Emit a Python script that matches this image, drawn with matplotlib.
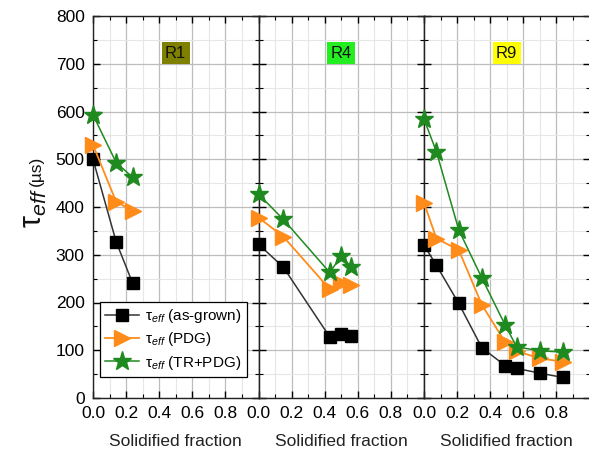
import matplotlib
matplotlib.use("Agg")
import matplotlib.pyplot as plt
from matplotlib.ticker import MultipleLocator, FixedLocator, FormatStrFormatter

plt.rcParams['font.family'] = ['Liberation Sans', 'DejaVu Sans']
plt.rcParams['mathtext.fontset'] = 'custom'
plt.rcParams['mathtext.rm'] = 'Liberation Sans'
plt.rcParams['mathtext.it'] = 'Liberation Sans:italic'
plt.rcParams['mathtext.bf'] = 'Liberation Sans:bold'

# Ingot regions
regions = ["R1", "R4", "R9"]
region_colors = ["#7f7f00", "#22ee22", "#ffff00"]

# Solidified fraction of each wafer position
frac_r1 = [0.0, 0.14, 0.24]
frac_r4 = [0.0, 0.15, 0.43, 0.50, 0.56]
frac_r9 = [0.0, 0.075, 0.21, 0.35, 0.49, 0.56, 0.70, 0.84]

# Effective lifetime (us): as-grown, after PDG, after TR+PDG
asgrown_r1 = [500, 327, 240]
pdg_r1 = [530, 411, 392]
trpdg_r1 = [593, 493, 462]

asgrown_r4 = [322, 274, 128, 133, 130]
pdg_r4 = [378, 338, 228, 240, 237]
trpdg_r4 = [427, 374, 263, 297, 275]

asgrown_r9 = [320, 278, 198, 105, 68, 62, 52, 43]
pdg_r9 = [409, 334, 310, 195, 117, 98, 83, 76]
trpdg_r9 = [584, 516, 352, 251, 153, 107, 99, 96]

series_labels = [r"$\mathrm{\tau}_{\mathit{eff}}$ (as-grown)",
                 r"$\mathrm{\tau}_{\mathit{eff}}$ (PDG)",
                 r"$\mathrm{\tau}_{\mathit{eff}}$ (TR+PDG)"]

fracs = [frac_r1, frac_r4, frac_r9]
data = [(asgrown_r1, pdg_r1, trpdg_r1),
        (asgrown_r4, pdg_r4, trpdg_r4),
        (asgrown_r9, pdg_r9, trpdg_r9)]

styles = [
    dict(color="#333333", marker="s", markersize=9, markerfacecolor="black",
         markeredgecolor="black", linewidth=1.1),
    dict(color="#ff8c1a", marker=">", markersize=11, markerfacecolor="#ff8c1a",
         markeredgecolor="#ff8c1a", linewidth=1.3),
    dict(color="#1f8a1f", marker="*", markersize=14, markerfacecolor="#1f8a1f",
         markeredgecolor="#1f8a1f", linewidth=1.1),
]

W, H = 589, 454
fig = plt.figure(figsize=(W / 100, H / 100), dpi=100)

left_px, right_px, top_px, bottom_px = 93, 589.5, 16, 398
panel_w = (right_px - left_px) / 3

axes = []
for i in range(3):
    x0 = (left_px + i * panel_w) / W
    ax = fig.add_axes([x0, 1 - bottom_px / H, panel_w / W, (bottom_px - top_px) / H])
    axes.append(ax)

for i, ax in enumerate(axes):
    x = fracs[i]
    lines = []
    for vals, st, lab in zip(data[i], styles, series_labels):
        ln, = ax.plot(x, vals, label=lab, zorder=3, clip_on=False, **st)
        lines.append(ln)

    ax.set_xlim(0, 1.0)
    ax.set_ylim(0, 800)
    ax.xaxis.set_major_locator(FixedLocator([0.0, 0.2, 0.4, 0.6, 0.8]))
    ax.xaxis.set_minor_locator(MultipleLocator(0.1))
    ax.xaxis.set_major_formatter(FormatStrFormatter("%.1f"))
    ax.yaxis.set_major_locator(MultipleLocator(100))
    ax.yaxis.set_minor_locator(MultipleLocator(50))

    ax.grid(which="major", color="#bdbdbd", linewidth=0.9, zorder=0)
    ax.grid(which="minor", color="#e6e6e6", linewidth=0.8, zorder=0)
    ax.set_axisbelow(True)

    ax.tick_params(which="both", direction="in", top=True, right=True,
                   labelsize=12.5, colors="black")
    ax.tick_params(which="major", length=5, width=1)
    ax.tick_params(which="minor", length=3, width=0.8)
    ax.tick_params(axis="x", pad=6)
    ax.tick_params(axis="y", pad=6)
    if i > 0:
        ax.tick_params(axis="y", labelleft=False)
    for sp in ax.spines.values():
        sp.set_linewidth(1.0)
        sp.set_color("#222222")

    ax.set_xlabel("Solidified fraction", fontsize=12.5, labelpad=9, color="#222222")

    ax.text(0.5, 722, regions[i], transform=ax.get_yaxis_transform(),
            ha="center", va="center", fontsize=12, color="#111111",
            bbox=dict(boxstyle="square,pad=0.2", facecolor=region_colors[i],
                      edgecolor="none"), zorder=5)

    if i == 0:
        leg = ax.legend(handles=lines, loc="lower left",
                        bbox_to_anchor=(0.04, 0.055), fontsize=11,
                        frameon=True, fancybox=False, framealpha=1,
                        edgecolor="black", handlelength=2.2,
                        handletextpad=0.4, borderpad=0.35, labelspacing=0.35,
                        borderaxespad=0)
        leg.get_frame().set_linewidth(0.9)
        leg.set_zorder(6)

# y-axis title: large tau with italic subscript, then the unit
fig.text(34 / W, 1 - 228 / H, r"$\mathrm{\tau}_{\mathit{eff}}$", rotation=90,
         fontsize=22, ha="center", va="bottom", color="#111111")
fig.text(36 / W, 1 - 186 / H, "(µs)", rotation=90, fontsize=12.5,
         ha="center", va="bottom", color="#111111")

fig.savefig("out.png", dpi=100)
